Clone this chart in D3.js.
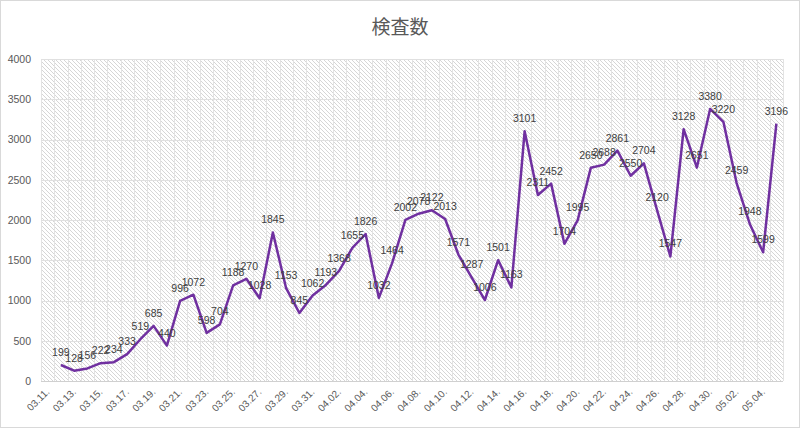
<!DOCTYPE html>
<html>
<head>
<meta charset="utf-8">
<script src="https://cdn.jsdelivr.net/npm/d3@7"></script>
<style>
  body { margin: 0; background: #fff; }
  svg { display: block; }
</style>
</head>
<body>
<svg id="chart" width="800" height="428"></svg>
<script>
// ---- data ----
const title = "検査数";
const categories = [
  "03.11.","03.12.","03.13.","03.14.","03.15.","03.16.","03.17.","03.18.","03.19.","03.20.",
  "03.21.","03.22.","03.23.","03.24.","03.25.","03.26.","03.27.","03.28.","03.29.","03.30.",
  "03.31.","04.01.","04.02.","04.03.","04.04.","04.05.","04.06.","04.07.","04.08.","04.09.",
  "04.10.","04.11.","04.12.","04.13.","04.14.","04.15.","04.16.","04.17.","04.18.","04.19.",
  "04.20.","04.21.","04.22.","04.23.","04.24.","04.25.","04.26.","04.27.","04.28.","04.29.",
  "04.30.","05.01.","05.02.","05.03.","05.04.","05.05."
];
const values = [
  null,199,128,156,222,234,333,519,685,440,
  996,1072,598,704,1188,1270,1028,1845,1153,845,
  1062,1193,1368,1655,1826,1032,1464,2002,2078,2122,
  2013,1571,1287,1006,1501,1163,3101,2311,2452,1704,
  1995,2650,2688,2861,2550,2704,2120,1547,3128,2651,
  3380,3220,2459,1948,1599,3196
];
const yTicks = [0,500,1000,1500,2000,2500,3000,3500,4000];

// ---- layout ----
const W = 800, H = 428;
const plot = { left: 41, right: 783, top: 59, bottom: 381 };
const svg = d3.select("#chart");

// border
svg.append("rect").attr("x",0.5).attr("y",0.5).attr("width",W-1).attr("height",H-1)
  .attr("fill","#fff").attr("stroke","#d9d9d9");

// hatch pattern
const defs = svg.append("defs");
const pat = defs.append("pattern").attr("id","hatch").attr("patternUnits","userSpaceOnUse")
  .attr("width",4).attr("height",4);
pat.append("rect").attr("width",4).attr("height",4).attr("fill","#fff");
pat.append("path").attr("d","M-1,-1 L5,5 M3,-1 L5,1 M-1,3 L1,5")
  .attr("stroke","#d6d6d6").attr("stroke-width",1);

const x = d3.scaleBand().domain(categories).range([plot.left, plot.right]).padding(0);
const y = d3.scaleLinear().domain([0,4000]).range([plot.bottom, plot.top]);
const cx = c => x(c) + x.bandwidth()/2;

svg.append("rect").attr("x",plot.left).attr("y",plot.top)
  .attr("width",plot.right-plot.left).attr("height",plot.bottom-plot.top)
  .attr("fill","url(#hatch)");

// vertical gridlines at category boundaries
const bounds = categories.map(c => x(c)).concat([plot.right]);
svg.append("g").selectAll("line").data(bounds).join("line")
  .attr("x1", d => Math.round(d)+0.5).attr("x2", d => Math.round(d)+0.5)
  .attr("y1", plot.top).attr("y2", plot.bottom)
  .attr("stroke","#e3e3e3").attr("stroke-width",1);

// horizontal gridlines
svg.append("g").selectAll("line").data(yTicks).join("line")
  .attr("x1", plot.left).attr("x2", plot.right)
  .attr("y1", d => Math.round(y(d))+0.5).attr("y2", d => Math.round(y(d))+0.5)
  .attr("stroke", d => d === 0 ? "#d0d0d0" : "#e0e0e0").attr("stroke-width",1);

// y axis
const yAxis = svg.append("g").attr("transform",`translate(${plot.left-10},0)`)
  .call(d3.axisLeft(y).tickValues(yTicks).tickSize(0).tickPadding(0).tickFormat(d3.format("d")));
yAxis.select(".domain").remove();
yAxis.selectAll("text").attr("font-family","'Liberation Sans', Arial, sans-serif")
  .attr("font-size","10.5px").attr("fill","#595959");

// x axis
const xAxis = svg.append("g").attr("transform",`translate(0,${plot.bottom})`)
  .call(d3.axisBottom(x).tickValues(categories.filter((d,i)=> i%2===0)).tickSize(0).tickPadding(0));
xAxis.select(".domain").remove();
xAxis.selectAll("text")
  .attr("font-family","'Liberation Sans', Arial, sans-serif")
  .attr("font-size","10px").attr("fill","#595959")
  .attr("text-anchor","end")
  .attr("dy",null).attr("y",null)
  .attr("transform","translate(0,9) rotate(-45)")
  .attr("dy","0.35em");

// line
const pts = categories.map((c,i)=>({c, v: values[i]})).filter(d => d.v !== null);
const line = d3.line().x(d => cx(d.c)).y(d => y(d.v));
svg.append("path").datum(pts).attr("d", line)
  .attr("fill","none").attr("stroke","#7030a0").attr("stroke-width",2.5)
  .attr("stroke-linejoin","round");

// data labels
svg.append("g").selectAll("text").data(pts).join("text")
  .attr("x", d => cx(d.c)).attr("y", d => y(d.v) - 9)
  .attr("text-anchor","middle")
  .attr("font-family","'Liberation Sans', Arial, sans-serif")
  .attr("font-size","10.5px").attr("fill","#404040")
  .text(d => d.v);

// title
svg.append("text").attr("x", 400).attr("y", 34).attr("text-anchor","middle")
  .attr("font-family","'Noto Sans CJK JP', sans-serif").attr("font-size","19px")
  .attr("fill","#595959").text(title);
</script>
</body>
</html>
